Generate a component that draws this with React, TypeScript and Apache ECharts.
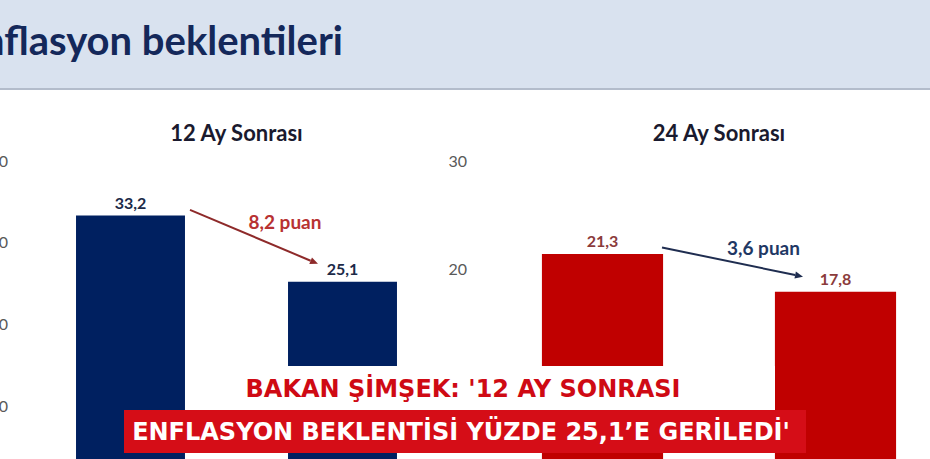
import React, { useEffect, useRef } from "react";
import * as echarts from "echarts";

// ---- data ----
const categories = ["Önceki anket", "Son anket"];
const values12 = [33.2, 25.1];
const values24 = [21.3, 17.8];
const panelTitles = ["12 Ay Sonrası", "24 Ay Sonrası"];
const changeLabels = ["8,2 puan", "3,6 puan"];
// arrow endpoints in value units (start near first bar, end near second bar)
const arrowStartValues = [33.9, 21.9];
const arrowEndValues = [27.3, 19.2];
const mainTitle = "Enflasyon beklentileri";
const headline1 = "BAKAN ŞİMŞEK: '12 AY SONRASI";
const headline2 = "ENFLASYON BEKLENTİSİ YÜZDE 25,1’E GERİLEDİ'";

const NAVY = "#002060";
const RED = "#c00000";
const FONT = "Lato, 'Open Sans', sans-serif";
const HEAD_FONT = "'DejaVu Sans', 'Open Sans', sans-serif";
const fmt = (v: number) => v.toFixed(1).replace(".", ",");

export default function App() {
  const ref = useRef<HTMLDivElement>(null);
  useEffect(() => {
    if (!ref.current) return;
    const chart = echarts.init(ref.current, null, { renderer: "svg" });
    const axisLabel = (margin: number, minShown: number) => ({
      color: "#595959",
      fontSize: 16,
      fontFamily: FONT,
      margin,
      formatter: (v: number) => (v >= minShown ? String(v) : ""),
    });
    const option: any = {
      animation: false,
      backgroundColor: "#ffffff",
      grid: [
        { left: 24.5, width: 424, top: 160, height: 327, outerBoundsMode: "none", containLabel: false },
        { left: 486, width: 466, top: 160, height: 324, outerBoundsMode: "none", containLabel: false },
      ],
      xAxis: [0, 1].map((g) => ({
        type: "category",
        gridIndex: g,
        data: categories,
        axisLine: { show: false },
        axisTick: { show: false },
        axisLabel: { show: false },
      })),
      yAxis: [
        {
          type: "value",
          gridIndex: 0,
          min: 0,
          max: 40,
          interval: 10,
          splitLine: { show: false },
          axisLine: { show: false },
          axisTick: { show: false },
          axisLabel: axisLabel(16.5, 10),
        },
        {
          type: "value",
          gridIndex: 1,
          min: 0,
          max: 30,
          interval: 10,
          splitLine: { show: false },
          axisLine: { show: false },
          axisTick: { show: false },
          axisLabel: axisLabel(19, 20),
        },
      ],
      series: [
        {
          type: "bar",
          xAxisIndex: 0,
          yAxisIndex: 0,
          data: values12,
          barWidth: "51.4%",
          itemStyle: { color: NAVY },
          label: {
            show: true,
            position: "top",
            distance: 5,
            formatter: (p: any) => fmt(p.value),
            color: "#1c2a48",
            fontSize: 16,
            fontWeight: "bold",
            fontFamily: FONT,
          },
        },
        {
          type: "bar",
          xAxisIndex: 1,
          yAxisIndex: 1,
          data: values24,
          barWidth: "52%",
          itemStyle: { color: RED },
          label: {
            show: true,
            position: "top",
            distance: 5,
            formatter: (p: any) => fmt(p.value),
            color: "#8b3b3b",
            fontSize: 16,
            fontWeight: "bold",
            fontFamily: FONT,
          },
        },
      ],
    };
    chart.setOption(option);

    // annotations placed with the library's own coordinate conversion
    const arrowColors = ["#8e2a2a", "#1f2d50"];
    const labelColors = ["#b83232", "#1f3864"];
    const startOffset = [59.5, 59.5];
    const endOffset = [24.5, 32.5];
    const graphics: any[] = [];
    graphics.push({
      type: "rect",
      z: 50,
      shape: { x: 0, y: 0, width: 930, height: 88 },
      style: { fill: "#d9e2ef" },
    });
    graphics.push({
      type: "rect",
      z: 50,
      shape: { x: 0, y: 88, width: 930, height: 2 },
      style: { fill: "#b3bccb" },
    });
    graphics.push({
      type: "text",
      z: 51,
      style: {
        text: mainTitle,
        x: 343,
        y: 60,
        textAlign: "right",
        align: "right",
        textVerticalAlign: "bottom",
        verticalAlign: "bottom",
        font: `bold 40px ${FONT}`,
        fill: "#14285a",
      },
    });
    [0, 1].forEach((g) => {
      const c0 = chart.convertToPixel({ gridIndex: g } as any, [categories[0], 0]) as number[];
      const c1 = chart.convertToPixel({ gridIndex: g } as any, [categories[1], 0]) as number[];
      const top = chart.convertToPixel({ gridIndex: g } as any, [categories[0], g === 0 ? 40 : 30]) as number[];
      const s = chart.convertToPixel({ gridIndex: g } as any, [categories[0], arrowStartValues[g]]) as number[];
      const e = chart.convertToPixel({ gridIndex: g } as any, [categories[1], arrowEndValues[g]]) as number[];
      const x1 = s[0] + startOffset[g];
      const y1 = s[1];
      const x2 = e[0] - endOffset[g];
      const y2 = e[1];
      const dx = x2 - x1;
      const dy = y2 - y1;
      const len = Math.sqrt(dx * dx + dy * dy);
      const ux = dx / len;
      const uy = dy / len;
      const hl = 8;
      const hw = 3.5;
      const bx = x2 - ux * hl;
      const by = y2 - uy * hl;
      graphics.push({
        type: "line",
        z: 20,
        shape: { x1, y1, x2: bx, y2: by },
        style: { stroke: arrowColors[g], lineWidth: 2 },
      });
      graphics.push({
        type: "polygon",
        z: 20,
        shape: {
          points: [
            [x2, y2],
            [bx - uy * hw, by + ux * hw],
            [bx + uy * hw, by - ux * hw],
          ],
        },
        style: { fill: arrowColors[g] },
      });
      graphics.push({
        type: "text",
        z: 20,
        style: {
          text: changeLabels[g],
          x: (x1 + x2) / 2 + 31,
          y: (y1 + y2) / 2 - 15,
          textAlign: "center",
          align: "center",
          textVerticalAlign: "middle",
          verticalAlign: "middle",
          font: `bold 19px ${FONT}`,
          fill: labelColors[g],
        },
      });
      graphics.push({
        type: "text",
        z: 20,
        style: {
          text: panelTitles[g],
          x: (c0[0] + c1[0]) / 2,
          y: top[1] - 28,
          textAlign: "center",
          align: "center",
          textVerticalAlign: "middle",
          verticalAlign: "middle",
          font: `bold 22px ${FONT}`,
          fill: "#1a1a2e",
        },
      });
    });
    // headline overlay
    graphics.push({
      type: "rect",
      z: 100,
      shape: { x: 186, y: 366, width: 589, height: 44 },
      style: { fill: "#ffffff" },
    });
    graphics.push({
      type: "rect",
      z: 100,
      shape: { x: 124, y: 410, width: 682, height: 43 },
      style: { fill: "#d50d17" },
    });
    graphics.push({
      type: "text",
      z: 101,
      style: {
        text: headline1,
        x: 463,
        y: 389,
        textAlign: "center",
        align: "center",
        textVerticalAlign: "middle",
        verticalAlign: "middle",
        font: `bold 24px ${HEAD_FONT}`,
        fill: "#cf0a14",
      },
    });
    graphics.push({
      type: "text",
      z: 101,
      style: {
        text: headline2,
        x: 461,
        y: 432,
        textAlign: "center",
        align: "center",
        textVerticalAlign: "middle",
        verticalAlign: "middle",
        font: `bold 24px ${HEAD_FONT}`,
        fill: "#ffffff",
      },
    });
    chart.setOption({ graphic: { elements: graphics } });
    return () => chart.dispose();
  }, []);
  return (
    <div
      ref={ref}
      style={{ position: "fixed", left: 0, top: 0, width: 930, height: 459 }}
    />
  );
}
